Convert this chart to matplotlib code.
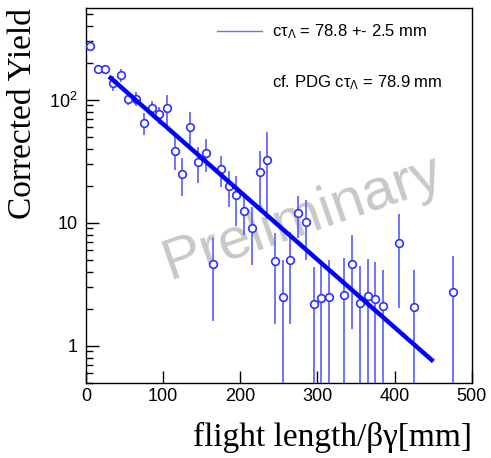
import numpy as np
import matplotlib
matplotlib.use('Agg')
import matplotlib.pyplot as plt
from matplotlib.ticker import FixedLocator, FixedFormatter, LogLocator, NullFormatter

# measured points (bin centre in mm, corrected yield, error)
flight = [5, 15, 25, 35, 45, 55, 65, 75, 85, 95, 105, 115, 125, 135, 145, 155,
          165, 175, 185, 195, 205, 215, 225, 235, 245, 255, 265, 275, 285, 295,
          305, 315, 335, 345, 355, 365, 375, 385, 405, 425, 475]
yld = [276, 178, 178, 137, 158, 102, 102, 65, 86, 76, 86, 38.5, 25, 60, 31, 37,
       4.6, 27.3, 20, 16.7, 12.4, 9.05, 25.7, 32.7, 4.9, 2.49, 5.0, 12.1, 10.2, 2.19,
       2.44, 2.5, 2.58, 4.67, 2.25, 2.55, 2.41, 2.09, 6.92, 2.06, 2.75]
err = [22, 12, 12, 19, 19, 12, 13, 13, 12, 12, 24, 11.5, 8.5, 19, 10, 11,
       3.0, 7.7, 6.6, 7.2, 4.5, 4.5, 12.5, 22, 3.4, 2.5, 3.5, 4.5, 5.2, 2.2,
       2.55, 2.5, 2.6, 3.3, 2.2, 2.5, 2.4, 2.06, 4.9, 2.1, 2.6]

# exponential fit
ctau = 78.8
amp = 226.0
fit_range = [32, 448]

plt.rcParams['font.family'] = ['Liberation Sans', 'DejaVu Sans']
plt.rcParams['mathtext.fontset'] = 'custom'
plt.rcParams['mathtext.rm'] = 'Liberation Sans'
fig = plt.figure(figsize=(4.91, 4.58), dpi=100)
ax = fig.add_axes([0.175, 0.164, 0.786, 0.819])

ax.errorbar(flight, yld, yerr=err, fmt='o', color='#5a5aff', ecolor='#5a5aff',
            elinewidth=1.2, markersize=5.5, markerfacecolor='white',
            markeredgecolor='#3030ff', markeredgewidth=1.2, capsize=0, zorder=3)

xf = np.linspace(fit_range[0], fit_range[1], 200)
ax.plot(xf, amp * np.exp(-xf / ctau), color='#0000ff', lw=3.2, zorder=4)

ax.set_yscale('log')
ax.set_xlim(0, 500)
ax.set_ylim(0.5, 560)

ax.xaxis.set_major_locator(FixedLocator([0, 100, 200, 300, 400, 500]))
ax.yaxis.set_major_locator(FixedLocator([1, 10, 100]))
ax.yaxis.set_major_formatter(FixedFormatter(['1', '10', r'$\mathregular{10^{2}}$']))
ax.yaxis.set_minor_locator(LogLocator(base=10, subs=np.arange(2, 10)))
ax.yaxis.set_minor_formatter(NullFormatter())
ax.tick_params(axis='both', which='major', direction='in', length=9, width=1,
               labelsize=13, top=False, right=False)
ax.tick_params(axis='y', which='minor', direction='in', length=5, width=1, right=False)
ax.tick_params(axis='x', pad=4)
ax.tick_params(axis='y', pad=6)
for s in ax.spines.values():
    s.set_linewidth(1)

ax.set_xlabel('flight length/βγ[mm]', family='Liberation Serif', fontsize=24,
              loc='right', labelpad=12)
ax.set_ylabel('Corrected Yield', family='Liberation Serif', fontsize=24,
              loc='top', labelpad=8)

# legend and annotations
ax.plot([0.34, 0.455], [0.937, 0.937], transform=ax.transAxes, color='#6e6eff', lw=1)
ax.text(0.482, 0.937, r'c$\mathregular{τ_{Λ}}$ = 78.8 +- 2.5 mm', transform=ax.transAxes,
        fontsize=12, va='center', ha='left')
ax.text(0.482, 0.80, r'cf. PDG c$\mathregular{τ_{Λ}}$ = 78.9 mm', transform=ax.transAxes,
        fontsize=12, va='center', ha='left')

ax.text(0.56, 0.44, 'Preliminary', transform=ax.transAxes, fontsize=42,
        color='#c8c8c8', rotation=19, ha='center', va='center', zorder=1)

fig.savefig('out.png', dpi=100)
